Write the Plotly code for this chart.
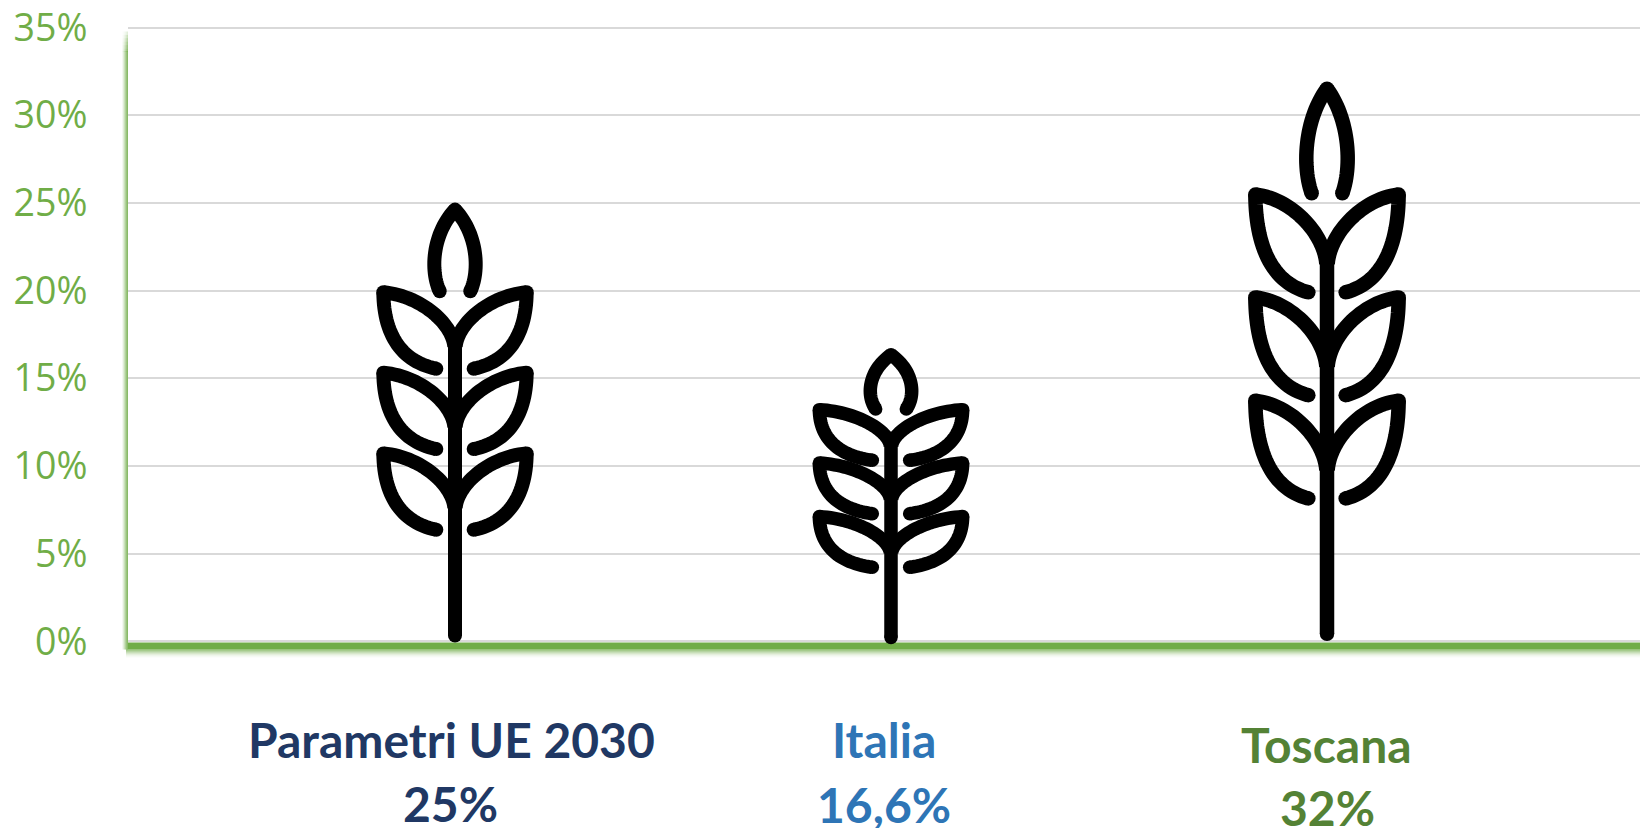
import numpy as np
import plotly.graph_objects as go

categories = ["Parametri UE 2030", "Italia", "Toscana"]
values = [25, 16.6, 32]
value_labels = ["25%", "16,6%", "32%"]
label_colors = ["#203864", "#2E75B6", "#548235"]
stroke_widths = [14, 13.5, 14.5]
y_ticks = [0, 5, 10, 15, 20, 25, 30, 35]
y_tick_labels = ["0%", "5%", "10%", "15%", "20%", "25%", "30%", "35%"]

W, H = 1640, 828
L, G35, G0 = 128, 28, 641.5
PAD = 0.2
UNIT = (G0 - G35) / 35
T, B0 = G35 - PAD * UNIT, G0 + PAD * UNIT
STEP = 436
FIRST = 455
xr = [(L - FIRST) / STEP, (W - FIRST) / STEP]

# wheat glyph: cubic segments in a 1315-tall drawing, centre at x=346
def bez(p0, c1, c2, p1, n=30):
    t = np.linspace(0, 1, n)[:, None]
    p0, c1, c2, p1 = map(np.array, (p0, c1, c2, p1))
    return (1-t)**3*p0 + 3*(1-t)**2*t*c1 + 3*(1-t)*t**2*c2 + t**3*p1

def mirror(p):
    m = p.copy()
    m[:, 0] = 692 - m[:, 0]
    return m

def glyph_paths():
    paths = []
    for off in (0, 241, 483):
        a = bez((348, 470+off), (355, 400+off), (450, 318+off), (561, 308+off))
        b = bez((561, 308+off), (560, 430+off), (510, 515+off), (402, 537+off))
        paths += [a, b, mirror(a), mirror(b)]
    a = bez((300, 305), (270, 240), (280, 130), (346, 60))
    paths += [a, mirror(a)]
    paths.append(np.array([[346, 1337.0], [346, 440.0]]))
    return paths

PATHS = glyph_paths()
NODES = [(346, 1337), (346, 60), (300, 305), (392, 305)]
for off in (0, 241, 483):
    for sx, sy in ((561, 308), (402, 537)):
        NODES += [(sx, sy + off), (692 - sx, sy + off)]
NODES = np.array(NODES, float)

def to_data(pts, i):
    x = i + (pts[:, 0] - 346) / 3 / STEP
    y = values[i] * (1355 - pts[:, 1]) / 1315
    return x, y

fig = go.Figure()
for i, cat in enumerate(categories):
    for p in PATHS:
        x, y = to_data(p, i)
        fig.add_trace(go.Scatter(x=x, y=y, mode="lines", showlegend=False, name=cat,
                                 line=dict(color="black", width=stroke_widths[i], simplify=False),
                                 hoverinfo="skip"))
    x, y = to_data(NODES, i)
    fig.add_trace(go.Scatter(x=x, y=y, mode="markers", showlegend=False, name=cat,
                             marker=dict(color="black", size=stroke_widths[i], line=dict(width=0)),
                             hoverinfo="skip"))

def py(p):
    return 1 - (p - T) / (B0 - T)
def px(p):
    return (p - L) / (W - L)

GREEN = "#70AD47"
shapes = []
def rect(x0, x1, y0, y1, op):
    shapes.append(dict(type="rect", xref="paper", yref="paper", x0=px(x0), x1=px(x1),
                       y0=py(y1), y1=py(y0), fillcolor=GREEN, opacity=op, line_width=0, layer="below"))
# soft shadow down the left edge, fading in at the top
for w, op in [(6, .08), (5, .14), (4, .2), (3, .27), (2, .35), (1, .4)]:
    rect(L - w, L, 52, G0 + 8, op)
    for s in range(6):
        rect(L - w, L, 32 + 3.4 * s, 32 + 3.4 * (s + 1), op * (s + 1) / 7)
# solid band along the base with a soft lower edge
rect(L, W, G0 + 1, G0 + 8, 1)
for d, op in [(0, .85), (1, .68), (2, .5), (3, .36), (4, .24), (5, .14), (6, .08), (7, .04)]:
    rect(L - 2, W, G0 + 8 + d, G0 + 9 + d, op)

ann = []
CENTRES = [(451, 450), (884, 884), (1326, 1327)]
MID_Y = [(739, 803), (739, 804), (744, 807)]
for i, cat in enumerate(categories):
    for txt, xc, yc in zip((cat, value_labels[i]), CENTRES[i], MID_Y[i]):
        ann.append(dict(text=txt, x=px(xc), y=py(yc), xref="paper", yref="paper", xanchor="center",
                        yanchor="middle", showarrow=False,
                        font=dict(family="Lato", size=48, weight=700, color=label_colors[i])))

fig.update_layout(
    width=W, height=H, autosize=False,
    margin=dict(l=L, r=0, t=T, b=H - B0, pad=0),
    paper_bgcolor="white", plot_bgcolor="white", showlegend=False,
    shapes=shapes, annotations=ann,
    font=dict(family="Open Sans"),
    xaxis=dict(range=xr, showgrid=False, zeroline=False, showticklabels=False, showline=False, ticks=""),
    yaxis=dict(range=[-PAD, 35 + PAD], tickvals=y_ticks, ticktext=y_tick_labels, showgrid=True, gridcolor="#D9D9D9",
               gridwidth=2, zeroline=False, showline=False, ticks="outside", ticklen=32, tickcolor="rgba(0,0,0,0)",
               tickfont=dict(family="Open Sans", size=37.5, color=GREEN)),
)
fig.write_html("out.html", config={"displayModeBar": False},
               post_script="document.body.style.margin='0';document.documentElement.style.overflow='hidden';")
